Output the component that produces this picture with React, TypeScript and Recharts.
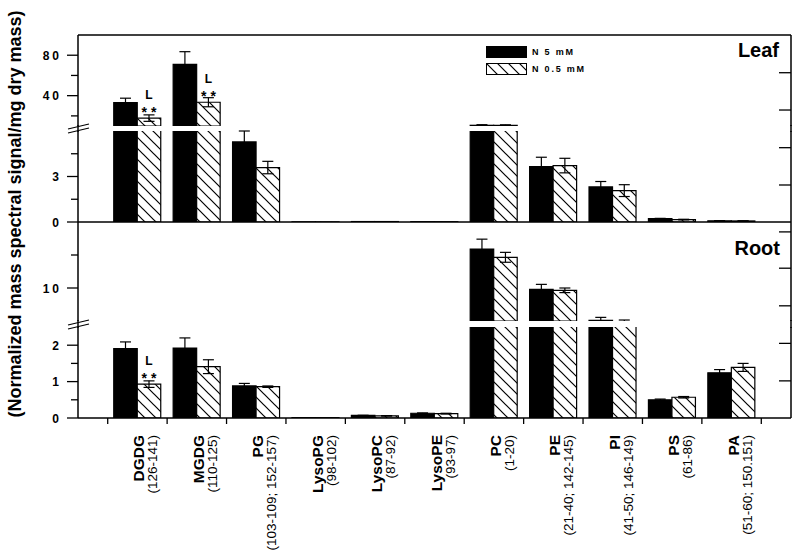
import { Bar, BarChart, ErrorBar, LabelList, Legend, Rectangle, XAxis, YAxis } from 'recharts';

const FONT = "'Liberation Sans', Arial, Helvetica, sans-serif";

const categories = ['DGDG', 'MGDG', 'PG', 'LysoPG', 'LysoPC', 'LysoPE', 'PC', 'PE', 'PI', 'PS', 'PA'];
const ranges = [
  '(126-141)',
  '(110-125)',
  '(103-109; 152-157)',
  '(98-102)',
  '(87-92)',
  '(93-97)',
  '(1-20)',
  '(21-40; 142-145)',
  '(41-50; 146-149)',
  '(61-86)',
  '(51-60; 150.151)',
];
const seriesNames = ['N 5 mM', 'N 0.5 mM'];
const seriesFills = ['#000', 'url(#hatch)'];

// leaf
const leafHigh = [33.1, 70.9, 5.28, 0.01, 0.03, 0.02, 10.7, 3.65, 2.31, 0.22, 0.08];
const leafHighErr = [4.4, 12.6, 0.72, 0, 0, 0, 0.6, 0.62, 0.36, 0.02, 0.01];
const leafLow = [17.8, 33.5, 3.59, 0.01, 0.03, 0.02, 10.6, 3.72, 2.07, 0.16, 0.07];
const leafLowErr = [3.2, 4.5, 0.41, 0, 0, 0, 0.6, 0.48, 0.39, 0.02, 0.01];
const leafMarks = ['L', 'L', '', '', '', '', '', '', '', '', ''];

// root
const rootHigh = [1.91, 1.92, 0.88, 0.01, 0.07, 0.13, 15.9, 9.8, 5.1, 0.5, 1.24];
const rootHighErr = [0.18, 0.28, 0.07, 0, 0.005, 0.01, 1.5, 0.75, 0.45, 0.02, 0.09];
const rootLow = [0.93, 1.41, 0.86, 0.01, 0.06, 0.12, 14.65, 9.65, 4.95, 0.57, 1.39];
const rootLowErr = [0.09, 0.19, 0.02, 0, 0.005, 0.01, 0.75, 0.35, 0.2, 0.02, 0.11];
const rootMarks = ['L', '', '', '', '', '', '', '', '', '', ''];

// axes (broken y axis: each panel is split in two segments)
const leafUpperDomain = [10, 100];
const leafUpperTicks = [20, 40, 60, 80];
const leafUpperLabels = [40, 80];
const leafUpperRight = [25.8, 62.7];
const leafLowerDomain = [0, 6];
const leafLowerTicks = [0, 1.5, 3, 4.5];
const leafLowerLabels = [0, 3];
const leafLowerRight = [2.44, 4.9];
const rootUpperDomain = [5, 20];
const rootUpperTicks = [10, 15];
const rootUpperLabels = [10];
const rootUpperRight = [7.3, 13, 18.5];
const rootLowerDomain = [0, 2.5];
const rootLowerTicks = [0, 0.5, 1, 1.5, 2];
const rootLowerLabels = [0, 1, 2];
const rootLowerRight = [1.02, 2.05];
const topTicks = [1, 2, 3, 4, 5, 6, 7, 8, 9];
const boundaryTicks = [0.5, 1.5, 2.5, 3.5, 4.5, 5.5, 6.5, 7.5, 8.5, 9.5, 10.5, 11.5];

const makeData = (high: number[], highErr: number[], low: number[], lowErr: number[], marks: string[]) =>
  categories.map((name, i) => ({
    name,
    idx: i + 1,
    high: high[i],
    highErr: highErr[i],
    low: low[i],
    lowErr: lowErr[i],
    mark: marks[i],
  }));

const leafData = makeData(leafHigh, leafHighErr, leafLow, leafLowErr, leafMarks);
const rootData = makeData(rootHigh, rootHighErr, rootLow, rootLowErr, rootMarks);
const bottomTicks = [...boundaryTicks, ...rootData.map((d) => d.idx)];

const axisLine = { stroke: '#000', strokeWidth: 1.5 };

const leftTick = (labels: number[]) => (props: any) => {
  const { x, y, payload } = props;
  const major = labels.includes(payload.value);
  return (
    <g>
      <line x1={x - (major ? 11 : 7)} x2={x} y1={y} y2={y} stroke="#000" strokeWidth={1.3} />
      {major && (
        <text
          x={x - 16}
          y={y}
          dy={4.5}
          textAnchor="end"
          fontFamily={FONT}
          fontWeight="bold"
          fontSize={12}
          letterSpacing={3}
          fill="#000"
        >
          {payload.value}
        </text>
      )}
    </g>
  );
};

const rightTick = (props: any) => {
  const { x, y } = props;
  return <line x1={x - 12} x2={x} y1={y} y2={y} stroke="#000" strokeWidth={1.3} />;
};

const MarkLabel = (props: any) => {
  const { x, y, width, value } = props;
  if (!value) return null;
  const cx = x + width / 2;
  return (
    <g fontFamily={FONT} fontWeight="bold" fill="#000" textAnchor="middle">
      <text x={cx} y={y - 19} fontSize={12}>
        {value}
      </text>
      <text x={cx + 2} y={y - 1} fontSize={14} letterSpacing={4}>
        **
      </text>
    </g>
  );
};

// bottom axis: short ticks at the category boundaries, two-line rotated labels at the centres
const BottomTick = (props: any) => {
  const { x, y, payload } = props;
  const v = payload.value;
  if (!Number.isInteger(v)) {
    return <line x1={x} x2={x} y1={y} y2={y + 6} stroke="#000" strokeWidth={1.3} />;
  }
  const i = v - 1;
  return (
    <g transform={`translate(${x},${y + 17}) rotate(-90)`} fontFamily={FONT} fill="#000">
      <text x={0} y={7} textAnchor="end" fontSize={15.5} fontWeight="bold">
        {categories[i]}
      </text>
      <text x={0} y={20} textAnchor="end" fontSize={13.5}>
        {ranges[i]}
      </text>
    </g>
  );
};

const LegendContent = () => (
  <div style={{ fontFamily: FONT, fontSize: 9, fontWeight: 'bold', letterSpacing: 1.8 }}>
    {seriesNames.map((name, i) => (
      <div key={name} style={{ display: 'flex', alignItems: 'center', height: 17 }}>
        <svg width={41} height={12}>
          <rect x={0.5} y={0.5} width={40} height={11} fill={seriesFills[i]} stroke="#000" />
        </svg>
        <span style={{ marginLeft: 5 }}>{name}</span>
      </div>
    ))}
  </div>
);

// bars whose value lies below a segment's floor are not drawn in that segment
const segShape = (key: string, lo: number) => (props: any) =>
  props.payload && props.payload[key] > lo ? <Rectangle {...props} /> : <g />;

const renderBars = (lo: number, withMarks: boolean) => [
  <Bar
    key="high"
    dataKey="high"
    name={seriesNames[0]}
    fill={seriesFills[0]}
    stroke="#000"
    strokeWidth={1.2}
    shape={segShape('high', lo)}
    isAnimationActive={false}
  >
    <ErrorBar dataKey="highErr" width={5.5} stroke="#000" strokeWidth={1.2} direction="y" />
  </Bar>,
  <Bar
    key="low"
    dataKey="low"
    name={seriesNames[1]}
    fill={seriesFills[1]}
    stroke="#000"
    strokeWidth={1.2}
    shape={segShape('low', lo)}
    isAnimationActive={false}
  >
    <ErrorBar dataKey="lowErr" width={5.5} stroke="#000" strokeWidth={1.2} direction="y" />
    {withMarks && <LabelList dataKey="mark" content={MarkLabel} />}
  </Bar>,
];

const yAxes = (domain: number[], ticks: number[], labels: number[], right: number[]) => [
  <YAxis
    key="l"
    yAxisId={0}
    type="number"
    domain={domain}
    ticks={ticks}
    allowDataOverflow
    width={78}
    tickSize={0}
    tickMargin={0}
    tickLine={false}
    axisLine={axisLine}
    tick={leftTick(labels)}
    interval={0}
  />,
  <YAxis
    key="r"
    yAxisId="r"
    orientation="right"
    type="number"
    domain={domain}
    ticks={right}
    allowDataOverflow
    width={9}
    tickSize={0}
    tickMargin={0}
    tickLine={false}
    axisLine={axisLine}
    tick={rightTick}
    interval={0}
  />,
];

const xPad = { left: 29.75, right: 29.75 };

export default function App() {
  return (
    <div style={{ position: 'absolute', left: 0, top: 0, width: 800, height: 558, background: '#fff' }}>
      {/* leaf, upper segment */}
      <div style={{ position: 'absolute', left: 0, top: 25 }}>
        <BarChart
          width={800}
          height={101}
          data={leafData}
          margin={{ top: 10, right: 0, bottom: 0, left: 0 }}
          barGap={0}
          barSize={23.5}
        >
          <XAxis dataKey="name" hide padding={xPad} />
          <XAxis
            xAxisId="top"
            orientation="top"
            type="number"
            dataKey="idx"
            domain={[0, 10]}
            allowDataOverflow
            ticks={topTicks}
            mirror
            tick={false}
            tickSize={7}
            tickLine={{ stroke: '#000', strokeWidth: 1.3 }}
            axisLine={axisLine}
          />
          {yAxes(leafUpperDomain, leafUpperTicks, leafUpperLabels, leafUpperRight)}
          <Legend
            layout="horizontal"
            verticalAlign="middle"
            align="center"
            content={LegendContent}
            wrapperStyle={{ left: 486, top: 18, width: 'auto' }}
          />
          {renderBars(leafUpperDomain[0], true)}
        </BarChart>
      </div>

      {/* leaf, lower segment */}
      <div style={{ position: 'absolute', left: 0, top: 121 }}>
        <BarChart
          width={800}
          height={113}
          data={leafData}
          margin={{ top: 10, right: 0, bottom: 0, left: 0 }}
          barGap={0}
          barSize={23.5}
        >
          <XAxis
            dataKey="name"
            padding={xPad}
            height={12}
            tick={false}
            tickSize={8}
            tickLine={{ stroke: '#000', strokeWidth: 1.3 }}
            axisLine={axisLine}
            interval={0}
          />
          {yAxes(leafLowerDomain, leafLowerTicks, leafLowerLabels, leafLowerRight)}
          {renderBars(leafLowerDomain[0], false)}
        </BarChart>
      </div>

      {/* root, upper segment */}
      <div style={{ position: 'absolute', left: 0, top: 212 }}>
        <BarChart
          width={800}
          height={109}
          data={rootData}
          margin={{ top: 10, right: 0, bottom: 0, left: 0 }}
          barGap={0}
          barSize={23.5}
        >
          <XAxis dataKey="name" hide padding={xPad} />
          {yAxes(rootUpperDomain, rootUpperTicks, rootUpperLabels, rootUpperRight)}
          {renderBars(rootUpperDomain[0], false)}
        </BarChart>
      </div>

      {/* root, lower segment */}
      <div style={{ position: 'absolute', left: 0, top: 317 }}>
        <BarChart
          width={800}
          height={241}
          data={rootData}
          margin={{ top: 10, right: 0, bottom: 0, left: 0 }}
          barGap={0}
          barSize={23.5}
        >
          <XAxis dataKey="name" orientation="top" hide padding={xPad} />
          <XAxis
            xAxisId="b"
            type="number"
            dataKey="idx"
            domain={[0, 12]}
            ticks={bottomTicks}
            height={140}
            tickSize={0}
            tickMargin={0}
            tickLine={false}
            tick={BottomTick}
            axisLine={axisLine}
            interval={0}
          />
          {yAxes(rootLowerDomain, rootLowerTicks, rootLowerLabels, rootLowerRight)}
          {renderBars(rootLowerDomain[0], true)}
        </BarChart>
      </div>

      <svg
        width={800}
        height={558}
        style={{ position: 'absolute', left: 0, top: 0, pointerEvents: 'none' }}
      >
        <defs>
          <pattern id="hatch" patternUnits="userSpaceOnUse" width={11} height={11}>
            <rect width={11} height={11} fill="#fff" />
            <path d="M0,0 L11,11 M-2,9 L2,13 M9,-2 L13,2" stroke="#000" strokeWidth={1.2} />
          </pattern>
        </defs>
        <g stroke="#000" strokeWidth={1.5}>
          <line x1={78} x2={78} y1={125} y2={132} />
          <line x1={791} x2={791} y1={125} y2={132} />
          <line x1={78} x2={78} y1={320} y2={328} />
          <line x1={791} x2={791} y1={320} y2={328} />
        </g>
        <g stroke="#000" strokeWidth={1.2}>
          <line x1={68} y1={129} x2={89} y2={124} />
          <line x1={68} y1={133} x2={89} y2={128} />
          <line x1={68} y1={325} x2={89} y2={320} />
          <line x1={68} y1={329} x2={89} y2={324} />
        </g>
        <text
          transform="translate(15,214) rotate(-90)"
          textAnchor="middle"
          dominantBaseline="central"
          fontFamily={FONT}
          fontWeight="bold"
          fontSize={18}
          fill="#000"
        >
          (Normalized mass spectral signal/mg dry mass)
        </text>
        <text x={779} y={57} textAnchor="end" fontFamily={FONT} fontWeight="bold" fontSize={20} fill="#000">
          Leaf
        </text>
        <text x={780} y={255} textAnchor="end" fontFamily={FONT} fontWeight="bold" fontSize={20} fill="#000">
          Root
        </text>
      </svg>
    </div>
  );
}
